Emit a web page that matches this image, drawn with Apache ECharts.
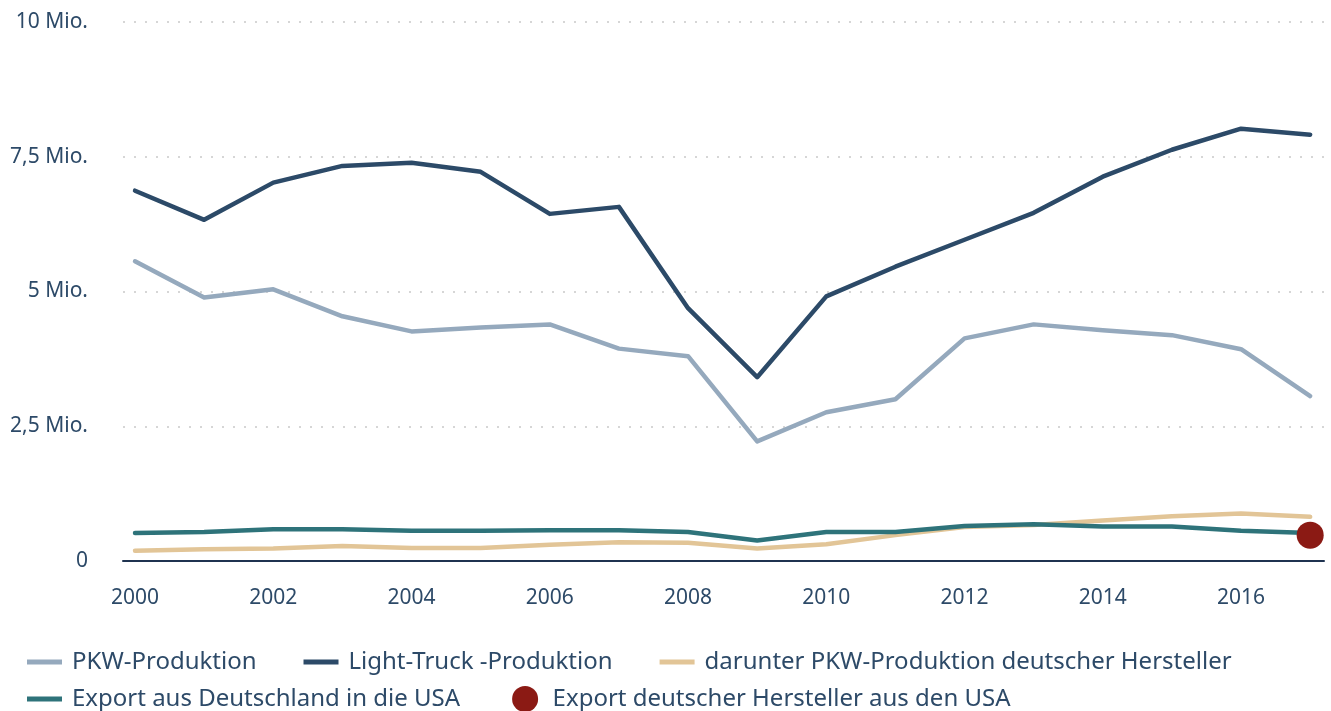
<!DOCTYPE html>
<html>
<head>
<meta charset="utf-8">
<script src="https://cdn.jsdelivr.net/npm/echarts@6/dist/echarts.min.js"></script>
<style>html,body{margin:0;padding:0;background:#fff}#c{width:1331px;height:711px}</style>
</head>
<body>
<div id="c"></div>
<script>
const years = [2000,2001,2002,2003,2004,2005,2006,2007,2008,2009,2010,2011,2012,2013,2014,2015,2016,2017];
const xTickLabels = [2000,2002,2004,2006,2008,2010,2012,2014,2016];
const pkw = [5.56,4.89,5.04,4.54,4.26,4.33,4.39,3.94,3.80,2.22,2.76,3.00,4.13,4.39,4.28,4.19,3.93,3.06];
const lightTruck = [6.87,6.33,7.02,7.33,7.39,7.22,6.44,6.57,4.69,3.41,4.91,5.46,5.96,6.46,7.13,7.63,8.02,7.91];
const pkwDeutsch = [0.19,0.22,0.23,0.28,0.24,0.24,0.30,0.35,0.34,0.23,0.31,0.48,0.63,0.67,0.75,0.83,0.88,0.82];
const exportDE = [0.52,0.54,0.59,0.59,0.56,0.56,0.57,0.57,0.54,0.38,0.54,0.54,0.65,0.68,0.64,0.64,0.56,0.52];
const exportUSAYear = [2017];
const exportUSA = [0.48];
const legendRow1 = ['PKW-Produktion', 'Light-Truck -Produktion', 'darunter PKW-Produktion deutscher Hersteller'];
const legendRow2 = ['Export aus Deutschland in die USA', 'Export deutscher Hersteller aus den USA'];

const textColor = '#2d4a68';
const font = '"Noto Sans", sans-serif';
const lineIcon = 'path://M0,0H35V5H0Z';
const pairs = (ys, vs) => ys.map((y, i) => [y, vs[i]]);
const lineSeries = (name, data, color) => ({
  name, type: 'line', data: pairs(years, data), symbol: 'none',
  lineStyle: { color, width: 4.5, cap: 'round', join: 'round' }, itemStyle: { color }
});
const legendBase = {
  left: 22, itemWidth: 35, itemHeight: 26,
  itemStyle: { borderWidth: 0 },
  textStyle: { color: textColor, fontSize: 24, fontFamily: font, padding: [0, 0, 0, 5] }
};

const chart = echarts.init(document.getElementById('c'), null, { renderer: 'canvas' });
chart.setOption({
  animation: false,
  backgroundColor: '#fff',
  textStyle: { fontFamily: font, color: textColor },
  grid: { left: 123, right: 7, top: 22, bottom: 150, containLabel: false },
  xAxis: {
    type: 'value', min: 1999.826, max: 2017.2,
    axisLine: { show: true, lineStyle: { color: '#1f3350', width: 2 } },
    axisTick: { show: false },
    splitLine: { show: false },
    axisLabel: { customValues: xTickLabels, color: textColor, fontSize: 21, fontFamily: font, margin: 27, formatter: v => String(v) }
  },
  yAxis: {
    type: 'value', min: 0, max: 10, interval: 2.5,
    axisLine: { show: false }, axisTick: { show: false },
    splitLine: { show: true, lineStyle: { color: '#d6d6d6', width: 2, type: [2, 9] } },
    axisLabel: {
      color: textColor, fontSize: 21, fontFamily: font, margin: 35,
      formatter: v => v === 0 ? '0' : String(v).replace('.', ',') + ' Mio.'
    }
  },
  legend: [
    Object.assign({}, legendBase, { top: 645, itemGap: 47, data: legendRow1.map(n => ({ name: n, icon: lineIcon })) }),
    Object.assign({}, legendBase, { top: 681, itemGap: 52, data: [{ name: legendRow2[0], icon: lineIcon }, { name: legendRow2[1], icon: 'circle' }] })
  ],
  series: [
    lineSeries('PKW-Produktion', pkw, '#95a9bd'),
    lineSeries('Light-Truck -Produktion', lightTruck, '#2c4a68'),
    lineSeries('darunter PKW-Produktion deutscher Hersteller', pkwDeutsch, '#e2c597'),
    lineSeries('Export aus Deutschland in die USA', exportDE, '#2e737a'),
    {
      name: 'Export deutscher Hersteller aus den USA', type: 'scatter',
      data: pairs(exportUSAYear, exportUSA), symbol: 'circle', symbolSize: 27,
      itemStyle: { color: '#8b1a14', opacity: 1 }, z: 5
    }
  ]
});
</script>
</body>
</html>
